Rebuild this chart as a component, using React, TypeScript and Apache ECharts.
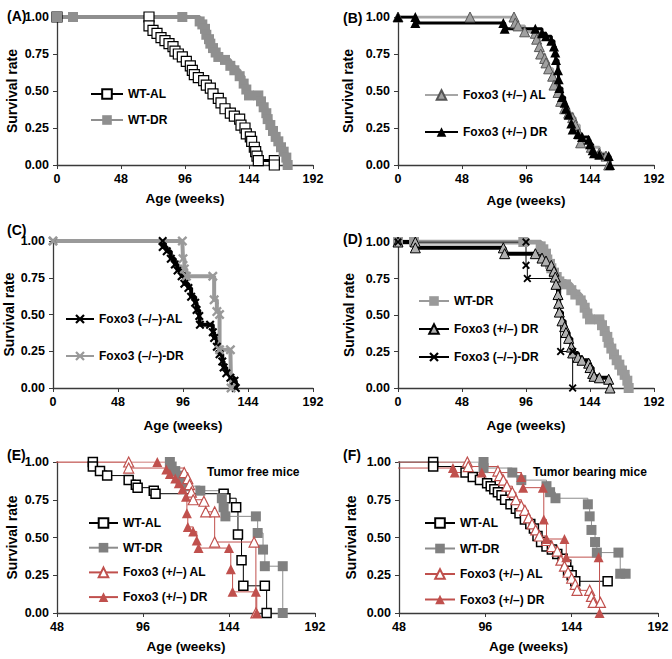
import React, { useEffect, useRef } from "react";
import * as echarts from "echarts";

type P = [number, number][];

// ---------- data (weeks, survival) ----------
const aWtAl: P = [[0,1],[69,1],[69,0.94],[72,0.91],[75,0.89],[78,0.86],[81,0.84],[84,0.82],[87,0.8],[88.5,0.77],[91,0.75],[94,0.73],[97,0.7],[100,0.67],[101.5,0.64],[103,0.61],[106,0.59],[110,0.57],[112,0.54],[115,0.52],[117,0.48],[121,0.45],[123,0.42],[126,0.38],[130,0.35],[133,0.33],[137,0.31],[138,0.27],[141,0.25],[142,0.21],[145,0.19],[146,0.16],[148,0.12],[149,0.09],[150,0.06],[151,0.03],[163,0.03],[163,0]];
const aWtDr: P = [[0,1],[12,1],[94,1],[107,0.97],[109,0.95],[111,0.92],[112,0.88],[114,0.85],[115,0.82],[117,0.79],[119,0.76],[121,0.73],[126,0.71],[130,0.67],[133,0.64],[137,0.6],[140,0.55],[142,0.51],[144,0.47],[151,0.47],[153,0.43],[155,0.39],[157,0.35],[158,0.31],[160,0.27],[162,0.23],[164,0.19],[166,0.16],[168,0.12],[170,0.09],[172,0.05],[173,0]];

const bFoxAl: P = [[0,1],[54,1],[87,1],[88,0.96],[90,0.94],[95,0.9],[103,0.89],[104,0.85],[106,0.8],[107,0.75],[110,0.72],[111,0.69],[113,0.65],[116,0.6],[117,0.54],[120,0.49],[122,0.43],[125,0.38],[128,0.35],[131,0.32],[133,0.27],[136,0.21],[137,0.15],[145,0.12],[151,0.08],[156,0.06],[158,0]];
const bFoxDr: P = [[0,1],[13,1],[13,0.96],[79,0.96],[80,0.92],[103,0.92],[108,0.89],[111,0.87],[115,0.84],[117,0.8],[118,0.76],[118.5,0.71],[120,0.64],[120.5,0.58],[121,0.52],[123,0.46],[125,0.42],[126,0.38],[128,0.34],[130,0.28],[131,0.24],[135,0.21],[138,0.19],[143,0.17],[144,0.14],[146,0.1],[147,0.08],[151,0.07],[158,0.06],[159,0]];

const cKoAl: P = [[0,1],[81,1],[81,0.96],[84,0.93],[87,0.88],[90,0.84],[92,0.8],[95,0.76],[97,0.71],[100,0.68],[102,0.62],[105,0.58],[106,0.53],[108,0.49],[108.5,0.43],[116,0.43],[118,0.38],[119,0.34],[121,0.28],[123,0.23],[125,0.18],[126,0.14],[128,0.1],[131,0.07],[134,0.05],[135,0]];
const cKoDr: P = [[0,1],[95.5,1],[96,0.88],[97,0.81],[98.5,0.76],[118,0.76],[119,0.6],[121,0.52],[123,0.5],[123,0.26],[131,0.26],[131.5,0]];

const dKoDr: P = [[0,1],[96,1],[96,0.84],[97,0.75],[122,0.25],[131,0.25],[131,0]];

const eWtAl: P = [[68,1],[68,0.97],[72,0.94],[76,0.91],[88,0.88],[92,0.85],[93,0.83],[102,0.81],[103,0.79],[141,0.79],[142,0.76],[148,0.7],[149,0.52],[151,0.35],[152,0.18],[164,0.18],[165,0]];
const eWtDr: P = [[111,1],[112,0.97],[114,0.94],[116,0.91],[117,0.88],[120,0.84],[128,0.81],[140,0.76],[141,0.7],[142,0.64],[159,0.64],[160,0.53],[163,0.42],[164,0.31],[174,0.31],[174,0]];
const eFoxAl: P = [[0,1],[88,1],[88,0.96],[119,0.93],[121,0.89],[122,0.85],[123,0.8],[124,0.75],[130,0.74],[131,0.67],[136,0.67],[136,0.47],[158,0.47],[159,0]];
const eFoxDr: P = [[0,1],[104,1],[109,0.95],[111,0.92],[114,0.89],[116,0.86],[118,0.82],[120,0.77],[120.5,0.66],[121,0.57],[124,0.54],[126,0.48],[127,0.43],[144,0.43],[145,0.29],[146,0.14],[159,0.14],[159.5,0]];

const fWtAl: P = [[0,1],[67,1],[67,0.97],[85,0.93],[89,0.9],[93,0.88],[97,0.86],[99,0.84],[101,0.82],[103,0.8],[105,0.78],[107,0.75],[110,0.72],[113,0.69],[115,0.66],[118,0.62],[121,0.59],[123,0.56],[125,0.51],[127,0.47],[130,0.44],[133,0.42],[136,0.39],[139,0.36],[141,0.32],[142,0.28],[144,0.25],[146,0.21],[164,0.21]];
const fWtDr: P = [[0,1],[95,1],[95,0.96],[111,0.93],[116,0.88],[130,0.84],[132,0.8],[135,0.76],[153,0.72],[154,0.64],[155,0.55],[157,0.47],[158,0.4],[170,0.4],[171,0.26],[174,0.26]];
const fFoxAl: P = [[0,1],[86,1],[86.5,0.97],[103,0.94],[104,0.91],[106,0.88],[108,0.84],[111,0.8],[113,0.75],[116,0.71],[118,0.68],[120,0.63],[122,0.59],[124,0.55],[126,0.51],[130,0.48],[133,0.44],[136,0.41],[138,0.35],[140,0.31],[142,0.27],[144,0.23],[146,0.19],[147,0.15],[154,0.15],[155,0.11],[156,0.07],[160,0.07]];
const fFoxDr: P = [[0,0.96],[78,0.96],[79,0.93],[94,0.93],[116,0.9],[117,0.83],[128,0.83],[128.5,0.62],[130,0.49],[140,0.49],[141,0.37],[159,0.37],[159.5,0]];

const panelLabels = ["(A)", "(B)", "(C)", "(D)", "(E)", "(F)"];
const yTicks = [0, 0.25, 0.5, 0.75, 1];
const xTitle = "Age (weeks)";
const yTitle = "Survival rate";

// ---------- styling ----------
const FONT = '"Liberation Sans", Arial, Helvetica, sans-serif';
const RED = "#c0504d";
const XMARK = "path://M0,2 L2,0 L6,4 L10,0 L12,2 L8,6 L12,10 L10,12 L6,8 L2,12 L0,10 L4,6 Z";

// grid boxes: left, top, width, height
const grids = [
  [57, 17, 256, 148],
  [398, 17, 256, 148],
  [53, 241, 260, 147],
  [398, 242, 256, 146],
  [57, 462, 258, 151],
  [399, 462, 259, 151],
];
const xMins = [0, 0, 0, 0, 48, 48];
const xNameGaps = [26, 28, 30, 30, 26, 26];
const yNameGaps = [38, 43, 37, 42, 38, 41];

const ser = (
  name: string, gi: number, data: P, color: string, width: number,
  symbol: string, size: number, fill: string, border: string, bw: number
) => ({
  type: "line", name, xAxisIndex: gi, yAxisIndex: gi, data, step: "end",
  symbol, symbolSize: size, showSymbol: true, showAllSymbol: true,
  lineStyle: { color, width }, itemStyle: { color: fill, borderColor: border, borderWidth: bw },
  emphasis: { disabled: true }, clip: true,
});

const legend = (gi: number, names: string[], left: number, top: number, gap: number, w: number) => ({
  orient: "vertical", left, top, itemGap: gap, itemWidth: w, itemHeight: 12,
  data: names, selectedMode: false,
  formatter: (n: string) => n.split("|")[0],
  textStyle: { fontFamily: FONT, fontWeight: "bold", fontSize: 12, color: "#000" },
});

export default function App() {
  const ref = useRef<HTMLDivElement>(null);
  useEffect(() => {
    if (!ref.current) return;
    const chart = echarts.init(ref.current, undefined, { renderer: "svg" });
    const axisLine = { show: true, onZero: false, lineStyle: { color: "#3a3a3a", width: 1.3 } };
    const axisTick = { show: true, length: 4, inside: false, lineStyle: { color: "#3a3a3a", width: 1 } };
    const labelStyle = { fontFamily: FONT, fontWeight: "bold", fontSize: 12.5, color: "#000" };
    const option: any = {
      animation: false,
      backgroundColor: "#fff",
      grid: grids.map((g) => ({ left: g[0], top: g[1], width: g[2], height: g[3], containLabel: false })),
      xAxis: grids.map((_, i) => ({
        gridIndex: i, type: "value", min: xMins[i], max: 192, interval: 48,
        name: xTitle, nameLocation: "middle", nameGap: xNameGaps[i], nameMoveOverlap: false,
        nameTextStyle: { fontFamily: FONT, fontWeight: "bold", fontSize: 13.5, color: "#000" },
        axisLine, axisTick, splitLine: { show: false },
        axisLabel: { ...labelStyle, margin: 7 },
      })),
      yAxis: grids.map((_, i) => ({
        gridIndex: i, type: "value", min: yTicks[0], max: yTicks[yTicks.length - 1], interval: 0.25,
        name: yTitle, nameLocation: "middle", nameGap: yNameGaps[i], nameMoveOverlap: false,
        nameTextStyle: { fontFamily: FONT, fontWeight: "bold", fontSize: 14, color: "#000" },
        axisLine, axisTick, splitLine: { show: false },
        axisLabel: { ...labelStyle, margin: 8, formatter: (v: number) => v.toFixed(2) },
      })),
      title: [
        ...panelLabels.map((t, i) => ({
          text: t,
          left: i % 2 === 0 ? 2 : 338,
          top: [4, 6, 218, 227, 443, 443][i],
          textStyle: { fontFamily: FONT, fontWeight: "bold", fontSize: 14, color: "#000" },
        })),
        { text: "Tumor free mice", left: 202, top: 461, textStyle: { fontFamily: FONT, fontWeight: "bold", fontSize: 12, color: "#000" } },
        { text: "Tumor bearing mice", left: 528, top: 461, textStyle: { fontFamily: FONT, fontWeight: "bold", fontSize: 12, color: "#000" } },
      ],
      legend: [
        legend(0, ["WT-AL|A", "WT-DR|A"], 85, 83, 14, 32),
        legend(1, ["Foxo3 (+/–) AL|B", "Foxo3 (+/–) DR|B"], 419, 84, 25, 33),
        legend(2, ["Foxo3 (–/–)-AL|C", "Foxo3 (–/–)-DR|C"], 60, 308, 25, 28),
        legend(3, ["WT-DR|D", "Foxo3 (+/–) DR|D", "Foxo3 (–/–)-DR|D"], 413, 290, 16, 30),
        legend(4, ["WT-AL|E", "WT-DR|E", "Foxo3 (+/–) AL|E", "Foxo3 (+/–) DR|E"], 83, 512, 12.7, 29),
        legend(5, ["WT-AL|F", "WT-DR|F", "Foxo3 (+/–) AL|F", "Foxo3 (+/–) DR|F"], 419, 512, 13.5, 30),
      ],
      series: [
        // A
        ser("WT-AL|A", 0, aWtAl, "#000", 3, "rect", 10, "#fff", "#000", 1.2),
        ser("WT-DR|A", 0, aWtDr, "#8f8f8f", 4, "rect", 10, "#8f8f8f", "#8f8f8f", 0),
        // B
        ser("Foxo3 (+/–) AL|B", 1, bFoxAl, "#a6a6a6", 3, "triangle", 10, "#a0a0a0", "#555", 1),
        ser("Foxo3 (+/–) DR|B", 1, bFoxDr, "#000", 3, "triangle", 10, "#000", "#000", 0),
        // C
        ser("Foxo3 (–/–)-AL|C", 2, cKoAl, "#000", 4, XMARK, 9, "#000", "#000", 0),
        ser("Foxo3 (–/–)-DR|C", 2, cKoDr, "#9a9a9a", 4, XMARK, 10, "#9a9a9a", "#9a9a9a", 0),
        // D
        ser("WT-DR|D", 3, aWtDr, "#9a9a9a", 5, "rect", 10, "#9a9a9a", "#9a9a9a", 0),
        ser("Foxo3 (+/–) DR|D", 3, bFoxDr, "#000", 4, "triangle", 10, "#b0b0b0", "#000", 1),
        ser("Foxo3 (–/–)-DR|D", 3, dKoDr, "#000", 1, XMARK, 8, "#000", "#000", 0),
        // E
        ser("WT-AL|E", 4, eWtAl, "#000", 1, "rect", 9, "#fff", "#000", 1.5),
        ser("WT-DR|E", 4, eWtDr, "#8c8c8c", 1, "rect", 10, "#808080", "#808080", 0),
        ser("Foxo3 (+/–) AL|E", 4, eFoxAl, RED, 1, "triangle", 10, "#fff", RED, 1.2),
        ser("Foxo3 (+/–) DR|E", 4, eFoxDr, RED, 1, "triangle", 10, RED, RED, 0),
        // F
        ser("WT-AL|F", 5, fWtAl, "#000", 1, "rect", 9, "#fff", "#000", 1.5),
        ser("WT-DR|F", 5, fWtDr, "#8c8c8c", 1, "rect", 10, "#808080", "#808080", 0),
        ser("Foxo3 (+/–) AL|F", 5, fFoxAl, RED, 1, "triangle", 10, "#fff", RED, 1.2),
        ser("Foxo3 (+/–) DR|F", 5, fFoxDr, RED, 1, "triangle", 10, RED, RED, 0),
      ],
    };
    chart.setOption(option);
    return () => chart.dispose();
  }, []);
  return (
    <div
      ref={ref}
      style={{ position: "fixed", left: 0, top: 0, width: 672, height: 659, background: "#fff" }}
    />
  );
}
